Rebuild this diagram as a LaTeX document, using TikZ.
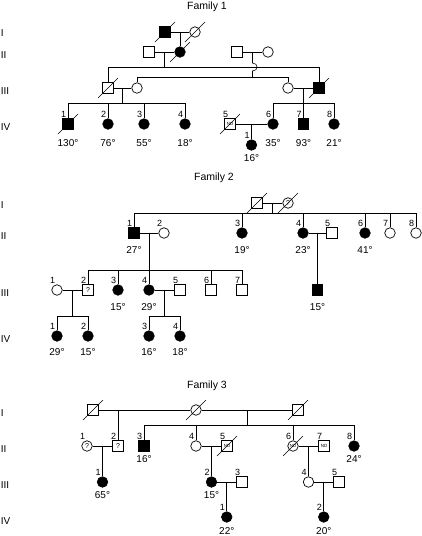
\documentclass[tikz,border=0pt]{standalone}
\usepackage{fontspec}
\setmainfont{Liberation Sans}
\usetikzlibrary{calc}
\newcommand\deceased[1]{\draw[slash] ([shift={(-10,10)}]#1.center) -- ([shift={(10,-10)}]#1.center);}
\begin{document}
\begin{tikzpicture}[x=1pt,y=-1pt,
  sym/.style={draw, line width=0.7pt, inner sep=0pt, minimum size=10.5pt, fill=white},
  msq/.style={sym, rectangle},
  fci/.style={sym, circle},
  aff/.style={fill=black},
  ln/.style={line width=0.6pt},
  slash/.style={line width=0.6pt},
  num/.style={font=\fontsize{9}{10}\selectfont, inner sep=0pt, anchor=south east, xshift=-1.5pt, yshift=1pt},
  age/.style={font=\fontsize{10}{12}\selectfont, inner sep=0pt},
  ageA/.style={age, yshift=-10pt},
  ageB/.style={age, yshift=-8pt},
  ageC/.style={age, yshift=-4pt},
  gen/.style={font=\fontsize{10}{12}\selectfont, anchor=west, inner sep=0pt},
  ttl/.style={font=\fontsize{10.5}{12}\selectfont, inner sep=0pt},
  tiny/.style={font=\fontsize{4.5}{5}\selectfont},
  qm/.style={font=\fontsize{7}{8}\selectfont},
  every path/.style={line width=0.6pt}
]
\path[fill=white] (0,0) rectangle (422,536);
\useasboundingbox (0,0) rectangle (422,536);

% ================= Family 1 =================
\node[ttl] (t1) at (207,7) {Family 1};
\node[gen] (g1a) at (0.5,33) {I};
\node[gen] (g1b) at (0.5,55) {II};
\node[gen] (g1c) at (0.5,91) {III};
\node[gen] (g1d) at (0.5,127) {IV};

\node[msq,aff] (a1) at (165,32) {};
\node[fci] (a2) at (195,32) {};
\draw[ln] (a1) -- (a2);
\coordinate (a12) at ($(a1)!0.5!(a2)$);

\node[msq] (b1) at (149,52) {};
\node[fci,aff] (b2) at (180,52) {};
\node[msq] (b3) at (237,52) {};
\node[fci] (b4) at (268,52) {};
\draw[ln] (a12) -- (b2);
\draw[ln] (b1) -- (b2);
\draw[ln] (b3) -- (b4);
\coordinate (b12) at ($(b1)!0.5!(b2)$);
\coordinate (b34) at ($(b3)!0.5!(b4)$);

\coordinate (sa1) at (108,67);
\coordinate (sa2) at (319,67);
\coordinate (sb1) at (137,77);
\coordinate (sb2) at (288,77);
\draw[ln] (b12) -- (b12 |- sa1);
\draw[ln] (sa1) -- (sa2);
\draw[ln] (sb1) -- (sb2);
\coordinate (h1) at ($(b34 |- sa1)+(0,-4)$);
\coordinate (h2) at ($(b34 |- sa1)+(0,4)$);
\draw[ln] (b34) -- (h1) .. controls +(6,0) and +(6,0) .. (h2) -- (b34 |- sb1);

\node[msq] (c1) at (108,88) {};
\node[fci] (c2) at (137,88) {};
\node[fci] (c3) at (288,88) {};
\node[msq,aff] (c4) at (319,88) {};
\draw[ln] (sa1) -- (c1);
\draw[ln] (sa2) -- (c4);
\draw[ln] (sb1) -- (c2);
\draw[ln] (sb2) -- (c3);
\draw[ln] (c1) -- (c2);
\draw[ln] (c3) -- (c4);
\coordinate (c12) at ($(c1)!0.5!(c2)$);
\coordinate (c34) at ($(c3)!0.5!(c4)$);
\coordinate (sc1) at (68,103);
\coordinate (sc2) at (185,103);
\coordinate (sd1) at (273,103);
\coordinate (sd2) at (334,103);
\draw[ln] (c12) -- (c12 |- sc1);
\draw[ln] (c34) -- (c34 |- sd1);
\draw[ln] (sc1) -- (sc2);
\draw[ln] (sd1) -- (sd2);

\node[msq,aff,label={[num]north:1},label={[ageA]below:130°}] (d1) at (68,124) {};
\node[fci,aff,label={[num]north:2},label={[ageA]below:76°}] (d2) at (108,124) {};
\node[fci,aff,label={[num]north:3},label={[ageA]below:55°}] (d3) at (144,124) {};
\node[fci,aff,label={[num]north:4},label={[ageA]below:18°}] (d4) at (185,124) {};
\node[msq,tiny,label={[num]north:5}] (d5) at (230,124) {ND};
\node[fci,aff,label={[num]north:6},label={[ageA]below:35°}] (d6) at (273,124) {};
\node[msq,aff,label={[num]north:7},label={[ageA]below:93°}] (d7) at (303.5,124) {};
\node[fci,aff,label={[num]north:8},label={[ageA]below:21°}] (d8) at (334,124) {};
\foreach \n in {d1,d2,d3,d4}{\draw[ln] (\n |- sc1) -- (\n);}
\foreach \n in {d6,d7,d8}{\draw[ln] (\n |- sd1) -- (\n);}
\draw[ln] (d5) -- (d6);
\coordinate (d56) at ($(d5)!0.5!(d6)$);
\node[fci,aff,label={[num]north:1},label={[ageC]below:16°}] (e1) at (251.5,145) {};
\draw[ln] (d56) -- (e1);

\deceased{a1}\deceased{a2}\deceased{b2}\deceased{c1}\deceased{c4}\deceased{d1}\deceased{d5}

% ================= Family 2 =================
\node[ttl] (t2) at (214,178) {Family 2};
\node[gen] (g2a) at (0.5,205) {I};
\node[gen] (g2b) at (0.5,236) {II};
\node[gen] (g2c) at (0.5,293) {III};
\node[gen] (g2d) at (0.5,339) {IV};

\node[msq] (p1) at (257,203) {};
\node[fci,qm] (p2) at (288,203) {?};
\draw[ln] (p1) -- (p2);
\coordinate (p12) at ($(p1)!0.5!(p2)$);
\coordinate (s2a) at (134,213);
\coordinate (s2b) at (416,213);
\draw[ln] (p12) -- (p12 |- s2a);
\draw[ln] (s2a) -- (s2b);

\node[msq,aff,label={[num]north:1},label={[ageB]below:27°}] (q1) at (134,233) {};
\node[fci,label={[num]north:2}] (q2) at (164,233) {};
\node[fci,aff,label={[num]north:3},label={[ageB]below:19°}] (q3) at (242,233) {};
\node[fci,aff,label={[num]north:4},label={[ageB]below:23°}] (q4) at (303,233) {};
\node[msq,label={[num]north:5}] (q5) at (332,233) {};
\node[fci,aff,label={[num]north:6},label={[ageB]below:41°}] (q6) at (365,233) {};
\node[fci,label={[num]north:7}] (q7) at (390,233) {};
\node[fci,label={[num]north:8}] (q8) at (416,233) {};
\foreach \n in {q1,q3,q4,q6,q7,q8}{\draw[ln] (\n |- s2a) -- (\n);}
\draw[ln] (q1) -- (q2);
\draw[ln] (q4) -- (q5);
\coordinate (q12) at ($(q1)!0.5!(q2)$);
\coordinate (q45) at ($(q4)!0.5!(q5)$);
\coordinate (s3a) at (88,270);
\coordinate (s3b) at (242,270);
\draw[ln] (q12) -- (q12 |- s3a);
\draw[ln] (s3a) -- (s3b);

\node[fci,label={[num]north:1}] (r1) at (57,290) {};
\node[msq,qm,label={[num]north:2}] (r2) at (88,290) {?};
\node[fci,aff,label={[num]north:3},label={[ageB]below:15°}] (r3) at (118,290) {};
\node[fci,aff,label={[num]north:4},label={[ageB]below:29°}] (r4) at (149,290) {};
\node[msq,label={[num]north:5}] (r5) at (180,290) {};
\node[msq,label={[num]north:6}] (r6) at (211,290) {};
\node[msq,label={[num]north:7}] (r7) at (242,290) {};
\node[msq,aff,label={[ageB]below:15°}] (r8) at (317.5,290) {};
\foreach \n in {r2,r3,r4,r6,r7}{\draw[ln] (\n |- s3a) -- (\n);}
\draw[ln] (q45) -- (r8);
\draw[ln] (r1) -- (r2);
\draw[ln] (r4) -- (r5);
\coordinate (r12) at ($(r1)!0.5!(r2)$);
\coordinate (r45) at ($(r4)!0.5!(r5)$);
\coordinate (s4a) at (57,316);
\coordinate (s4b) at (88,316);
\coordinate (s5a) at (149,316);
\coordinate (s5b) at (180,316);
\draw[ln] (r12) -- (r12 |- s4a);
\draw[ln] (r45) -- (r45 |- s5a);
\draw[ln] (s4a) -- (s4b);
\draw[ln] (s5a) -- (s5b);

\node[fci,aff,label={[num]north:1},label={[ageB,yshift=1pt]below:29°}] (u1) at (57,336) {};
\node[fci,aff,label={[num]north:2},label={[ageB,yshift=1pt]below:15°}] (u2) at (88,336) {};
\node[fci,aff,label={[num]north:3},label={[ageB,yshift=1pt]below:16°}] (u3) at (149,336) {};
\node[fci,aff,label={[num]north:4},label={[ageB,yshift=1pt]below:18°}] (u4) at (180,336) {};
\foreach \n in {u1,u2}{\draw[ln] (\n |- s4a) -- (\n);}
\foreach \n in {u3,u4}{\draw[ln] (\n |- s5a) -- (\n);}

\deceased{p1}\deceased{p2}

% ================= Family 3 =================
\node[ttl] (t3) at (207,386) {Family 3};
\node[gen] (g3a) at (0.5,413) {I};
\node[gen] (g3b) at (0.5,449) {II};
\node[gen] (g3c) at (0.5,485) {III};
\node[gen] (g3d) at (0.5,521) {IV};

\node[msq] (v1) at (93,410) {};
\node[fci] (v2) at (196,410) {};
\node[msq] (v3) at (298,410) {};
\draw[ln] (v1) -- (v2);
\draw[ln] (v2) -- (v3);
\coordinate (v12) at (118,410);
\coordinate (v23) at (247,410);
\coordinate (s6a) at (144,425);
\coordinate (s6b) at (354,425);
\draw[ln] (v23) -- (v23 |- s6a);
\draw[ln] (s6a) -- (s6b);

\node[fci,qm,label={[num]north:1}] (w1) at (87,446) {?};
\node[msq,qm,label={[num]north:2}] (w2) at (118,446) {?};
\node[msq,aff,label={[num]north:3},label={[ageC]below:16°}] (w3) at (144,446) {};
\node[fci,label={[num]north:4}] (w4) at (196,446) {};
\node[msq,tiny,label={[num]north:5}] (w5) at (227,446) {ND};
\node[fci,tiny,label={[num]north:6}] (w6) at (293,446) {ND};
\node[msq,tiny,label={[num]north:7}] (w7) at (324,446) {ND};
\node[fci,aff,label={[num]north:8},label={[ageC]below:24°}] (w8) at (354,446) {};
\draw[ln] (v12) -- (w2);
\foreach \n in {w3,w4,w6,w8}{\draw[ln] (\n |- s6a) -- (\n);}
\draw[ln] (w1) -- (w2);
\draw[ln] (w4) -- (w5);
\draw[ln] (w6) -- (w7);
\coordinate (w12) at ($(w1)!0.5!(w2)$);
\coordinate (w45) at ($(w4)!0.5!(w5)$);
\coordinate (w67) at ($(w6)!0.5!(w7)$);

\node[fci,aff,label={[num]north:1},label={[ageC]below:65°}] (x1) at (102.5,482) {};
\node[fci,aff,label={[num]north:2},label={[ageC]below:15°}] (x2) at (211.5,482) {};
\node[msq,label={[num]north:3}] (x3) at (242,482) {};
\node[fci,label={[num]north:4}] (x4) at (308.5,482) {};
\node[msq,label={[num]north:5}] (x5) at (339,482) {};
\draw[ln] (w12) -- (x1);
\draw[ln] (w45) -- (x2);
\draw[ln] (w67) -- (x4);
\draw[ln] (x2) -- (x3);
\draw[ln] (x4) -- (x5);
\coordinate (x23) at ($(x2)!0.5!(x3)$);
\coordinate (x45) at ($(x4)!0.5!(x5)$);

\node[fci,aff,label={[num]north:1},label={[ageC,yshift=-1pt]below:22°}] (y1) at (226.75,517) {};
\node[fci,aff,label={[num]north:2},label={[ageC,yshift=-1pt]below:20°}] (y2) at (323.75,517) {};
\draw[ln] (x23) -- (y1);
\draw[ln] (x45) -- (y2);

\deceased{v1}\deceased{v2}\deceased{v3}\deceased{w5}\deceased{w6}
\end{tikzpicture}
\end{document}
